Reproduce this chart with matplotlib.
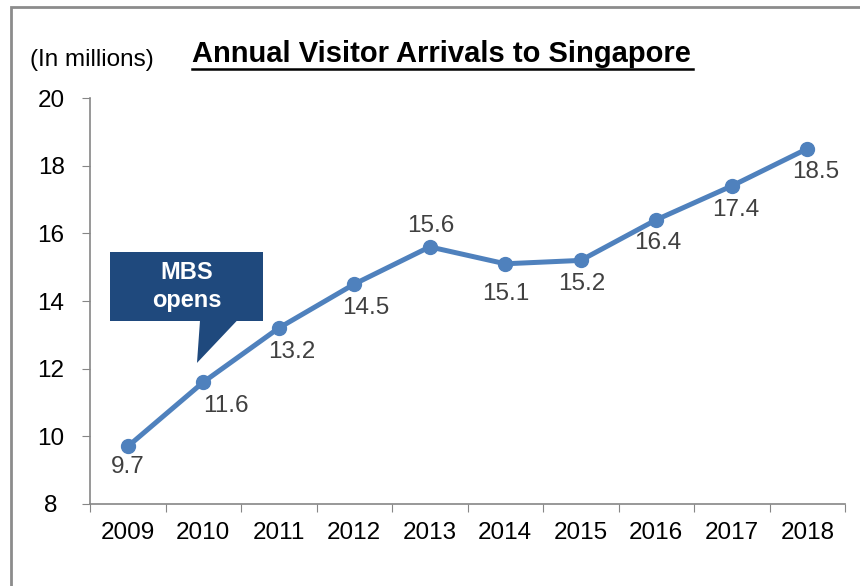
import matplotlib.pyplot as plt
from matplotlib.patches import Polygon, Rectangle

# ===== DONNEES =====
years = ["2009", "2010", "2011", "2012", "2013", "2014", "2015", "2016", "2017", "2018"]
arrivals = [9.7, 11.6, 13.2, 14.5, 15.6, 15.1, 15.2, 16.4, 17.4, 18.5]

# decalage des etiquettes (points)
label_dx = [0, 16, 9, 8, 1, 0, 1, 1, 3, 6]
label_dy = [-15, -17, -17, -17, 15, -22, -17, -17, -17, -17]

plt.rcParams['font.family'] = ['Liberation Sans', 'DejaVu Sans']

fig = plt.figure(figsize=(8.6, 5.86), dpi=100)
ax = fig.add_axes([90 / 860, 1 - 504 / 586, 755 / 860, 406 / 586])

x = list(range(len(years)))
ax.plot(x, arrivals, color='#4F81BD', linewidth=3.6, marker='o', markersize=10,
        solid_capstyle='round', zorder=3)

for i, v in enumerate(arrivals):
    ax.annotate(f"{v:.1f}", (i, v), xytext=(label_dx[i], label_dy[i]),
                textcoords='offset points', ha='center', va='center',
                fontsize=17.5, color='#404040')

ax.set_xlim(-0.5, len(years) - 0.5)
ax.set_ylim(8, 20)
ax.set_yticks(range(8, 21, 2))
ax.set_xticks([i - 0.5 for i in range(len(years) + 1)], minor=False)
ax.set_xticklabels([])
ax.set_xticks(x, minor=True)
ax.set_xticklabels(years, minor=True)
ax.tick_params(axis='x', which='major', length=6, color='#868686', direction='out')
ax.tick_params(axis='x', which='minor', length=0, pad=13, labelsize=17.5)
ax.tick_params(axis='y', length=6, color='#868686', direction='out', pad=22, labelsize=17.5)
for lab in ax.get_yticklabels():
    lab.set_horizontalalignment('center')

for s in ['top', 'right']:
    ax.spines[s].set_visible(False)
for s in ['left', 'bottom']:
    ax.spines[s].set_color('#868686')
    ax.spines[s].set_linewidth(1.2)

# ===== BULLE "MBS opens" =====
box = Rectangle((-0.235, 13.41), 2.025, 2.04, facecolor='#1F497D', edgecolor='none',
                zorder=4, clip_on=False)
ax.add_patch(box)
tail = Polygon([(0.957, 13.42), (1.447, 13.42), (0.917, 12.17)], closed=True,
               facecolor='#1F497D', edgecolor='none', zorder=4, clip_on=False)
ax.add_patch(tail)
ax.text(0.78, 14.43, "MBS\nopens", ha='center', va='center', color='white',
        fontsize=17, fontweight='bold', linespacing=1.25, zorder=5)

# ===== TITRES =====
fig.text(192 / 860, 1 - 54 / 586, "Annual Visitor Arrivals to Singapore",
         ha='left', va='center', fontsize=21, fontweight='bold')
fig.add_artist(plt.Line2D([192 / 860, 693 / 860], [1 - 69 / 586, 1 - 69 / 586],
                          color='black', linewidth=1.8))
fig.text(30 / 860, 1 - 60 / 586, "(In millions)", ha='left', va='center', fontsize=17.5)

# cadre gris
fig.add_artist(Rectangle((11 / 860, -0.1), 1.2, 1 - 6.5 / 586 + 0.1,
                         transform=fig.transFigure, fill=False,
                         edgecolor='#8c8c8c', linewidth=2))

plt.savefig("out.png", dpi=100)
